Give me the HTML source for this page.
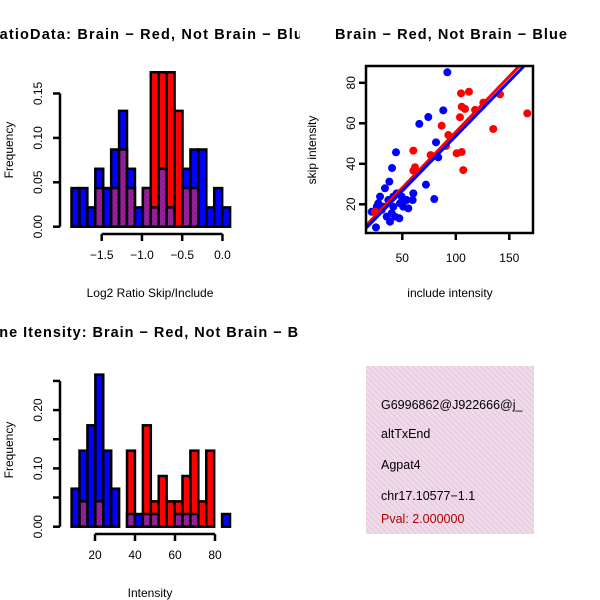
<!DOCTYPE html>
<html><head><meta charset="utf-8"><style>
html,body{margin:0;padding:0;background:#fff;}
svg{display:block;font-family:"Liberation Sans",Arial,sans-serif;}
</style></head><body>
<svg id="chart" width="600" height="600" viewBox="0 0 600 600">
<defs>
<pattern id="hatchPurple" width="3" height="3" patternUnits="userSpaceOnUse" patternTransform="rotate(45)">
<rect width="3" height="3" fill="#a020a0"/><rect width="1" height="3" fill="#7a1a8a"/>
</pattern>
<pattern id="hatchPink" width="4" height="4" patternUnits="userSpaceOnUse" patternTransform="rotate(-45)">
<rect width="4" height="4" fill="#f4d8ee"/><rect width="1.3" height="4" fill="#ddd0d8"/>
</pattern>
<clipPath id="scClip"><rect x="366" y="66" width="167" height="167"/></clipPath>
<clipPath id="leftClip"><rect x="0" y="0" width="300" height="600"/></clipPath>
</defs>
<g id="p1" clip-path="url(#leftClip)"></g>
<g id="p2"></g>
<g id="p3" clip-path="url(#leftClip)"></g>
<g id="p4">
<rect x="366" y="366" width="168" height="168" fill="url(#hatchPink)"/>
<text x="381" y="409" font-size="12.5">G6996862@J922666@j_</text>
<text x="381" y="438" font-size="12.5">altTxEnd</text>
<text x="381" y="469" font-size="12.5">Agpat4</text>
<text x="381" y="500" font-size="12.5">chr17.10577−1.1</text>
<text x="381" y="523" font-size="12.5" fill="#b00000">Pval: 2.000000</text>
</g>
</svg>
<script>
// ---- Histogram 1: log2 ratio ----
const ratioBinStart = -1.875;
const ratioBinWidth = 0.0985;
const ratioBlueCounts = [2,2,1,3,2,4,6,3,1,2,1,3,1,0,3,4,4,1,2,1];
const ratioRedCounts  = [0,0,0,2,0,2,4,2,0,2,8,8,8,6,2,2,0,0,0,0];
const ratioXTicks = [-1.5,-1.0,-0.5,0.0];
const ratioXTickLabels = ["−1.5","−1.0","−0.5","0.0"];
const ratioYTicks = [0,0.05,0.10,0.15];
const ratioYTickLabels = ["0.00","0.05","0.10","0.15"];
// ---- Histogram 2: intensity ----
const intBinStart = 8.3;
const intBinWidth = 3.96;
const intBlueCounts = [3,6,8,12,6,3,0,1,1,1,1,0,0,1,1,1,0,0,0,1];
const intRedCounts  = [0,2,0,2,0,0,0,6,0,8,2,4,2,2,4,6,2,6,0,0];
const intXTicks = [20,40,60,80];
const intYTicks = [0,0.05,0.10,0.15,0.20,0.25];
const intYTickLabels = ["0.00","","0.10","","0.20",""];
const histTotal = 46;
// ---- Scatter ----
const blueInclude = [92.1,88.3,74.3,65.9,81.5,83.6,44.1,40.4,72.1,79.9,25.4,21.4,37.9,33.8,29.2,27.6,32.2,36.9,41.6,44.8,49.4,50.9,55.6,60.3,59.7,40.1,43.2,47.2,38.5,35.4,30.7,26.1,47.9,54.1,41.6];
const blueSkip    = [85.2,66.4,63.1,59.7,50.6,43.2,45.7,37.9,29.7,22.6,8.6,16.3,31.2,27.9,23.8,20.5,18.8,22.1,23.8,25.4,23.8,18.8,18.0,25.4,22.1,15.6,13.9,13.1,11.4,13.9,17.2,18.8,20.5,22.1,18.8];
const redInclude = [104.9,112.3,125.7,141.3,105.5,108.6,118,103.9,86.8,93,90.8,76.5,60.3,61.9,60.3,100.8,105.5,107,135,166.8,24.5];
const redSkip    = [74.8,75.6,70.2,74.3,68.2,67.1,66.6,63,58.8,54.2,48.8,44.3,46.5,38.3,36.6,45.2,45.8,36.9,57.2,64.9,16.3];
const redFit = [0.7, 0.55];   // intercept, slope
const blueFit = [-0.5, 0.542];
const scXTicks = [50,100,150];
const scYTicks = [20,40,60,80];

const NS = "http://www.w3.org/2000/svg";
function mk(parent, tag, attrs, txt){
  const e = document.createElementNS(NS, tag);
  for (const k in attrs) e.setAttribute(k, attrs[k]);
  if (txt !== undefined) e.textContent = txt;
  parent.appendChild(e);
  return e;
}
function hist(g, cfg){
  const {xs, ys, blue, red, start, width, name} = cfg;
  for (let i=0;i<blue.length;i++){
    const b = blue[i]/histTotal, r = red[i]/histTotal;
    const x0 = xs(start + i*width), x1 = xs(start + (i+1)*width);
    const hi = Math.max(b,r), lo = Math.min(b,r);
    if (hi>0){
      const e = mk(g,'rect',{x:x0,y:ys(hi),width:x1-x0,height:ys(0)-ys(hi),fill: b>=r?'#0000ff':'#ff0000',stroke:'#000','stroke-width':2.5});
      
      
    }
    if (lo>0){
      const e = mk(g,'rect',{x:x0,y:ys(lo),width:x1-x0,height:ys(0)-ys(lo),fill:'url(#hatchPurple)',stroke:'#000','stroke-width':2.5});
      
      
    }
  }
}
function yAxis(g, ys, ticks, labels, xAxis, name){
  const l = mk(g,'line',{x1:xAxis,x2:xAxis,y1:ys(ticks[0]),y2:ys(ticks[ticks.length-1]),stroke:'#000','stroke-width':2.5});
  
  
  ticks.forEach((t,i)=>{
    mk(g,'line',{x1:xAxis-7,x2:xAxis,y1:ys(t),y2:ys(t),stroke:'#000','stroke-width':2.5});
    if (labels[i]!==""){
      const tx = mk(g,'text',{x:0,y:0,'font-size':12,'text-anchor':'middle',transform:`translate(${xAxis-18},${ys(t)}) rotate(-90)`},labels[i]);
      
      
    }
  });
}
function xAxis(g, xs, ticks, labels, yAxisPos, name){
  const l = mk(g,'line',{x1:xs(ticks[0]),x2:xs(ticks[ticks.length-1]),y1:yAxisPos,y2:yAxisPos,stroke:'#000','stroke-width':2.5});
  
  
  ticks.forEach((t,i)=>{
    mk(g,'line',{x1:xs(t),x2:xs(t),y1:yAxisPos,y2:yAxisPos+7,stroke:'#000','stroke-width':2.5});
    const tx = mk(g,'text',{x:xs(t),y:yAxisPos+25,'font-size':12,'text-anchor':'middle'},labels[i]);
    
    
  });
}

// Panel 1
(function(){
  const g = document.getElementById('p1');
  const xs = v => 101.7 + (v+1.5)*80.5;
  const ys = v => 226.7 - v*(44.4/0.05);
  const t = mk(g,'text',{x:-12,y:39,'font-size':14.5,'font-weight':'bold',textLength:324,lengthAdjust:'spacing'},'RatioData: Brain − Red, Not Brain − Blue');
  
  
  hist(g,{xs,ys,blue:ratioBlueCounts,red:ratioRedCounts,start:ratioBinStart,width:ratioBinWidth,name:'ratio'});
  yAxis(g, ys, ratioYTicks, ratioYTickLabels, 60, 'ratio');
  xAxis(g, xs, ratioXTicks, ratioXTickLabels, 234, 'ratio');
  const xl = mk(g,'text',{x:150,y:297,'font-size':12,'text-anchor':'middle'},'Log2 Ratio Skip/Include');
  
  
  const yl = mk(g,'text',{x:0,y:0,'font-size':12,'text-anchor':'middle',transform:'translate(13,150) rotate(-90)'},'Frequency');
  
  
})();

// Panel 3
(function(){
  const g = document.getElementById('p3');
  const xs = v => 95 + (v-20)*2.0;
  const ys = v => 526.7 - v*(58.3/0.1);
  const t = mk(g,'text',{x:-22,y:337,'font-size':14.5,'font-weight':'bold',textLength:344,lengthAdjust:'spacing'},'Gene Itensity: Brain − Red, Not Brain − Blue');
  
  
  hist(g,{xs,ys,blue:intBlueCounts,red:intRedCounts,start:intBinStart,width:intBinWidth,name:'intensity'});
  yAxis(g, ys, intYTicks, intYTickLabels, 60, 'intensity');
  xAxis(g, xs, intXTicks, intXTicks.map(String), 534, 'intensity');
  const xl = mk(g,'text',{x:150,y:597,'font-size':12,'text-anchor':'middle'},'Intensity');
  
  
  const yl = mk(g,'text',{x:0,y:0,'font-size':12,'text-anchor':'middle',transform:'translate(13,450) rotate(-90)'},'Frequency');
  
  
})();

// Panel 2 scatter
(function(){
  const g = document.getElementById('p2');
  const xs = v => 402.3 + (v-50)*1.07;
  const ys = v => 204.3 - (v-20)*2.025;
  const t = mk(g,'text',{x:335,y:39,'font-size':14.5,'font-weight':'bold',textLength:232,lengthAdjust:'spacing'},'Brain − Red, Not Brain − Blue');
  
  
  const pts = mk(g,'g',{'clip-path':'url(#scClip)'});
  blueInclude.forEach((v,i)=>{
    const c = mk(pts,'circle',{cx:xs(v),cy:ys(blueSkip[i]),r:4,fill:'#0000ff'});
    
    
  });
  redInclude.forEach((v,i)=>{
    const c = mk(pts,'circle',{cx:xs(v),cy:ys(redSkip[i]),r:4,fill:'#ff0000'});
    
    
  });
  [[redFit,'#ff0000','red-fit-line'],[blueFit,'#0000ff','blue-fit-line']].forEach(([f,col,nm])=>{
    const x1=0,x2=200;
    const l = mk(pts,'line',{x1:xs(x1),y1:ys(f[0]+f[1]*x1),x2:xs(x2),y2:ys(f[0]+f[1]*x2),stroke:col,'stroke-width':3});
    
    
  });
  const box = mk(g,'rect',{x:366,y:66,width:167,height:167,fill:'none',stroke:'#000','stroke-width':2.5});
  
  
  scXTicks.forEach(v=>{
    mk(g,'line',{x1:xs(v),x2:xs(v),y1:233,y2:240,stroke:'#000','stroke-width':2.5});
    const tx = mk(g,'text',{x:xs(v),y:262,'font-size':12,'text-anchor':'middle'},String(v));
    
    
  });
  scYTicks.forEach(v=>{
    mk(g,'line',{x1:359,x2:366,y1:ys(v),y2:ys(v),stroke:'#000','stroke-width':2.5});
    const tx = mk(g,'text',{x:0,y:0,'font-size':12,'text-anchor':'middle',transform:`translate(355,${ys(v)}) rotate(-90)`},String(v));
    
    
  });
  const xl = mk(g,'text',{x:450,y:297,'font-size':12,'text-anchor':'middle'},'include intensity');
  
  
  const yl = mk(g,'text',{x:0,y:0,'font-size':12,'text-anchor':'middle',transform:'translate(316,150) rotate(-90)'},'skip intensity');
  
  
})();
</script>
</body></html>
